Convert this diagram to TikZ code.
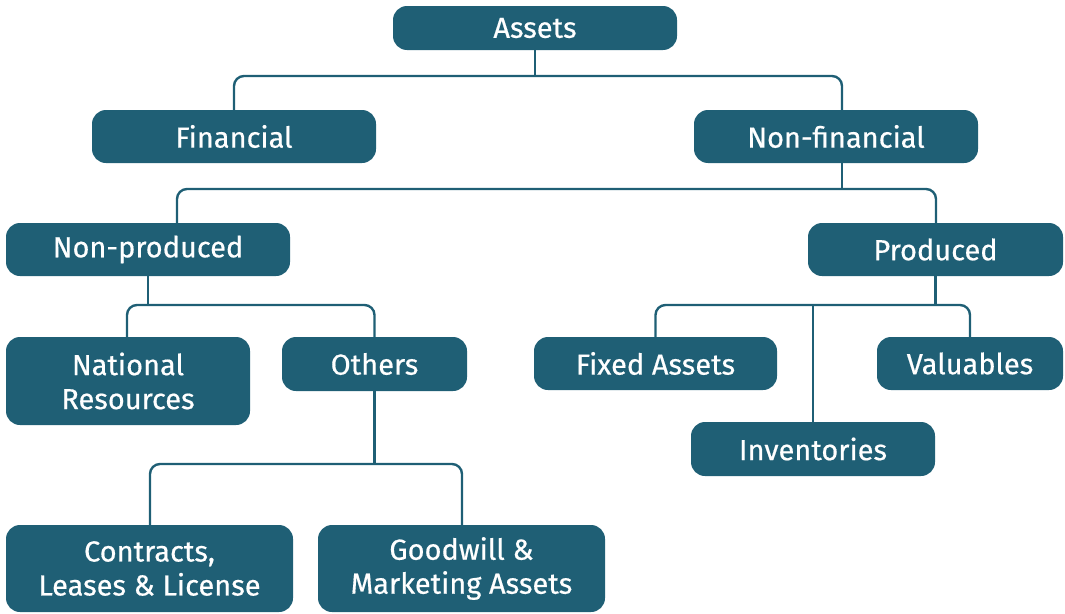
\documentclass[tikz,border=0pt]{standalone}
\usepackage{fontspec}
\setmainfont{Fira Sans}
\newfontfamily\boxfont{Fira Sans}[FakeBold=0.5]
\definecolor{teal1}{HTML}{1F5F75}
\begin{document}
\begin{tikzpicture}[x=1pt,y=-1pt,
  box/.style={fill=teal1, rounded corners=14pt, text=white, align=center,
    font=\boxfont\fontsize{29}{34}\selectfont, inner sep=0pt},
  conn/.style={draw=teal1, line width=2.4pt, rounded corners=10pt}]
\useasboundingbox (0,0) rectangle (1065,613);
\node[box, minimum width=284pt, minimum height=44pt] (assets) at (535,28) {Assets};
\node[box, minimum width=284pt, minimum height=53pt] (fin) at (234,136.5) {Financial};
\node[box, minimum width=284pt, minimum height=53pt] (nf) at (836,136.5) {Non-financial};
\node[box, minimum width=284pt, minimum height=53pt] (np) at (148,249.5) {Non-produced};
\node[box, minimum width=255pt, minimum height=53pt] (pr) at (935.5,249.5) {Produced};
\node[box, minimum width=244pt, minimum height=88pt] (nat) at (128,381) {National\\Resources};
\node[box, minimum width=185pt, minimum height=54pt] (oth) at (374.5,364) {Others};
\node[box, minimum width=243pt, minimum height=53pt] (fix) at (655.5,363.5) {Fixed Assets};
\node[box, minimum width=186pt, minimum height=53pt] (val) at (970,363.5) {Valuables};
\node[box, minimum width=244pt, minimum height=54pt] (inv) at (813,449) {Inventories};
\node[box, minimum width=287pt, minimum height=87pt] (con) at (149.5,568.5) {Contracts,\\Leases \& License};
\node[box, minimum width=287pt, minimum height=87pt] (good) at (461.5,568.5) {Goodwill \&\\Marketing Assets};
% connectors
\draw[conn] (assets.south) -- (assets.south |- 0,76);
\draw[conn] (fin.north) |- (842,76) -- ([xshift=6pt]nf.north);
\draw[conn] ([xshift=6pt]nf.south) -- (842,189);
\draw[conn] ([xshift=29pt]np.north) |- (936,189) -- ([xshift=0.5pt]pr.north);
\draw[conn] (np.south) -- (148,305);
\draw[conn] ([xshift=-1pt]nat.north) |- (374.5,305) -- (oth.north);
\draw[conn] (pr.south) -- (935.5,305);
\draw[conn] (fix.north) |- (970,305) -- (val.north);
\draw[conn] (inv.north) -- (813,305);
\draw[conn] (oth.south) -- (374.5,464);
\draw[conn] ([xshift=0.5pt]con.north) |- (462,464) -- ([xshift=0.5pt]good.north);
\end{tikzpicture}
\end{document}
